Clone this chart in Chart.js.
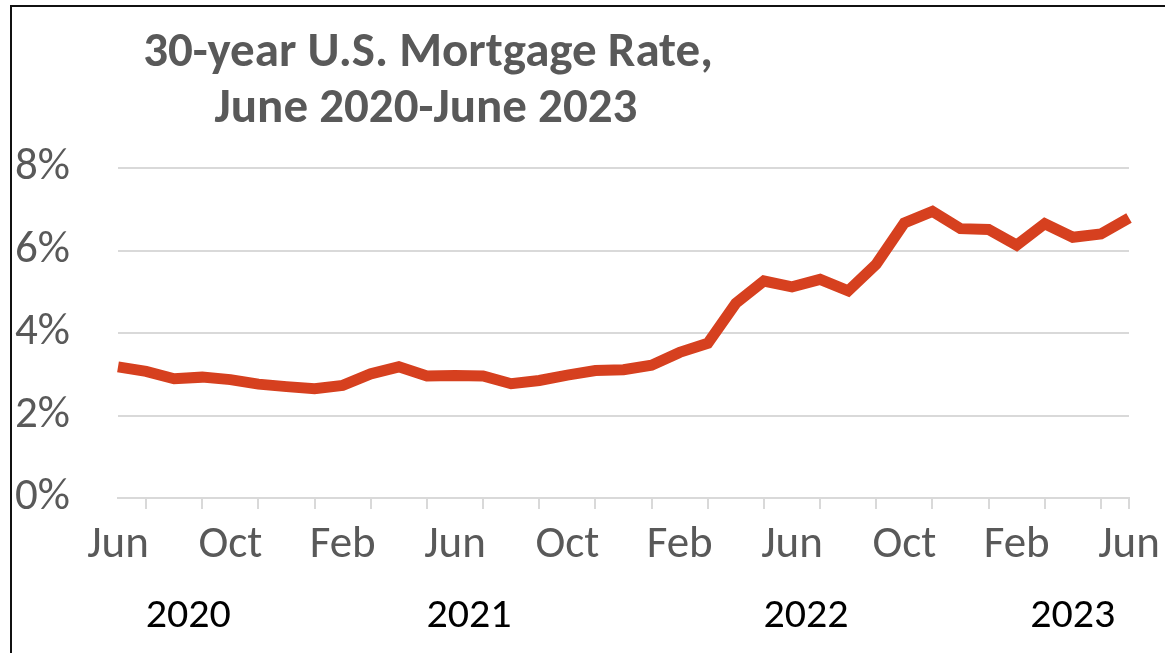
<!DOCTYPE html>
<html>
<head>
<meta charset="utf-8">
<script src="https://cdn.jsdelivr.net/npm/chart.js@4/dist/chart.umd.min.js"></script>
<style>
  html, body { margin: 0; padding: 0; background: #fff; }
  #wrap { position: relative; width: 1165px; height: 653px; overflow: hidden; }
  #frame { position: absolute; left: 10px; top: 5px; width: 1200px; height: 700px;
           border-left: 2px solid #111; border-top: 2px solid #111; pointer-events: none; }
  canvas { position: absolute; left: 0; top: 0; }
</style>
</head>
<body>
<div id="wrap">
  <canvas id="mortgage-chart" width="1165" height="653"></canvas>
  <div id="frame"></div>
</div>
<script>
// monthly points, Jun 2020 .. Jun 2023
const months = ['Jun','Jul','Aug','Sep','Oct','Nov','Dec',
  'Jan','Feb','Mar','Apr','May','Jun','Jul','Aug','Sep','Oct','Nov','Dec',
  'Jan','Feb','Mar','Apr','May','Jun','Jul','Aug','Sep','Oct','Nov','Dec',
  'Jan','Feb','Mar','Apr','May','Jun'];
const rates = [3.18, 3.07, 2.89, 2.93, 2.87, 2.76, 2.70,
  2.65, 2.73, 3.01, 3.18, 2.96, 2.97, 2.96, 2.77, 2.85, 2.98, 3.09, 3.11,
  3.22, 3.53, 3.75, 4.72, 5.26, 5.12, 5.30, 5.02, 5.67, 6.67, 6.95, 6.53,
  6.51, 6.13, 6.65, 6.32, 6.40, 6.79];
const yTicks = [0, 2, 4, 6, 8];
const years = ['2020', '2021', '2022', '2023'];
const yearAt = [2.5, 12.5, 24.5, 34]; // month index under which each year label sits
const titleLines = ['30-year U.S. Mortgage Rate,', 'June 2020-June 2023'];

const FONT = 'Carlito, Lato, "Open Sans", sans-serif';
const GRAY = '#595959';
const GRID = '#d9d9d9';

// title and year row, drawn by hand since they don't sit where Chart.js puts them
const extraText = {
    id: 'extraText',
    afterDraw(chart) {
        const ctx = chart.ctx;
        const x = chart.scales.x;
        ctx.save();
        ctx.textAlign = 'center';
        ctx.textBaseline = 'middle';
        ctx.fillStyle = GRAY;
        ctx.font = 'bold 49px ' + FONT;
        ctx.fillText(titleLines[0], 428, 54);
        ctx.fillText(titleLines[1], 426, 110);

        ctx.fillStyle = '#000';
        ctx.font = '42px ' + FONT;
        years.forEach((y, i) => {
            ctx.fillText(y, x.getPixelForValue(yearAt[i]), 616);
        });
        ctx.restore();
    }
};

const ctx = document.getElementById('mortgage-chart').getContext('2d');
new Chart(ctx, {
    type: 'line',
    data: {
        labels: months,
        datasets: [{
            data: rates,
            borderColor: '#d6401f',
            borderWidth: 11,
            borderCapStyle: 'butt',
            borderJoinStyle: 'miter',
            pointRadius: 0,
            tension: 0,
            fill: false,
        }],
    },
    options: {
        responsive: false,
        animation: false,
        layout: { padding: { left: 15, top: 168, right: 36, bottom: 0 } },
        plugins: {
            legend: { display: false },
            tooltip: { enabled: false },
        },
        scales: {
            x: {
                type: 'category',
                offset: false,
                afterFit: (s) => {
                    s.height = 155;
                    // let the end labels hang into the margins
                    s.paddingLeft = 0;
                    s.paddingRight = 0;
                },
                border: { display: true, color: GRID, width: 2 },
                grid: {
                    drawOnChartArea: false,
                    drawTicks: true,
                    tickLength: 11,
                    lineWidth: 2,
                    // tick marks every other month, plus the axis end
                    color: (c) => (c.index % 2 === 1 || c.index === months.length - 1) ? GRID : 'rgba(0,0,0,0)',
                },
                ticks: {
                    autoSkip: false,
                    maxRotation: 0,
                    padding: 10,
                    color: GRAY,
                    font: { family: FONT, size: 45 },
                    callback: function (val, idx) {
                        return idx % 4 === 0 ? months[idx] : '';
                    },
                },
            },
            y: {
                min: 0,
                max: 8,
                afterFit: (s) => { s.width = 103; },
                afterBuildTicks: (s) => { s.ticks = yTicks.map(v => ({ value: v })); },
                border: { display: false },
                grid: { color: GRID, lineWidth: 2, drawTicks: false },
                ticks: {
                    crossAlign: 'far',
                    padding: 0,
                    color: GRAY,
                    font: { family: FONT, size: 45 },
                    callback: (v) => v + '%',
                },
            },
        },
    },
    plugins: [extraText],
});
</script>
</body>
</html>
